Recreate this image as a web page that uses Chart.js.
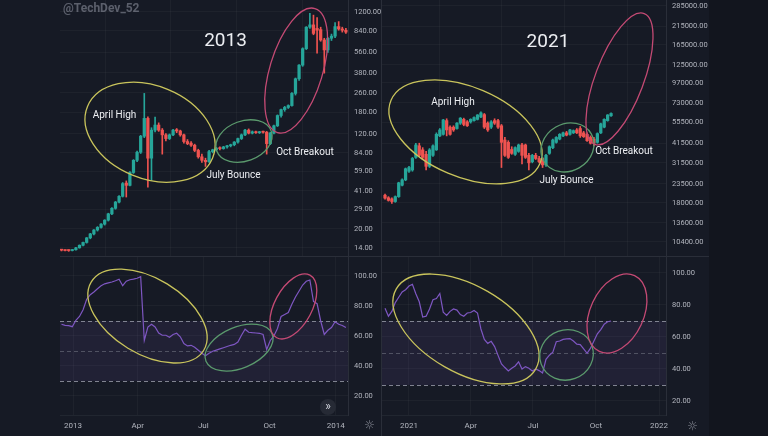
<!DOCTYPE html>
<html lang="en">
<head>
<meta charset="UTF-8">
<title>BTC 2013 vs 2021 - RSI</title>
<script src="https://cdn.jsdelivr.net/npm/chart.js@4.4.2/dist/chart.umd.min.js"></script>
<style>
  body { margin: 0; width: 768px; height: 436px; overflow: hidden; position: relative; background: #12151e; font-family: Roboto, sans-serif; }
  .panel { position: absolute; left: 0; top: 0; width: 709px; height: 436px; background: #161a25; }
  canvas { position: absolute; }
  .sep { position: absolute; background: #2a2e39; }
  .mark { position: absolute; color: rgba(160,164,178,0.5); font: 700 12px Roboto, sans-serif; left: 63px; top: 1px; }
  .btn { position: absolute; left: 320px; top: 399px; width: 16px; height: 16px; border-radius: 50%; background: #262a35; color: #d1d4dc; font: 12px Roboto, sans-serif; line-height: 15px; text-align: center; }
  .gear { position: absolute; color: #8a8e99; font: 12px "DejaVu Sans", sans-serif; }
</style>
</head>
<body>
<div class="panel"></div>
<canvas id="tl" width="322" height="256" style="left:60px;top:0"></canvas>
<canvas id="bl" width="322" height="180" style="left:60px;top:256px"></canvas>
<canvas id="tr" width="327" height="256" style="left:382px;top:0"></canvas>
<canvas id="br" width="327" height="180" style="left:382px;top:256px"></canvas>
<div class="sep" style="left:60px;top:256px;width:649px;height:1px"></div>
<div class="sep" style="left:381px;top:0;width:1px;height:436px"></div>
<div class="mark">@TechDev_52</div>
<div class="btn">»</div>
<div class="gear" style="left:364px;top:418px">☼</div>
<div class="gear" style="left:687px;top:419px">☼</div>

<script>
// candles are every 5 days; day 0 = 1 Jan of the year shown
const step = 5;
const green = '#26a69a', red = '#ef5350';
const gridCol = 'rgba(255,255,255,0.035)';
const tickCol = '#b2b5be';

// --- 2013 ---
const start2013 = -16;
const open2013 = [13.5,13.4,13.4,13.3,13.5,14.0,14.7,15.5,16.9,18.2,
  19.6,20.6,21.9,23.6,26.6,29.5,33.2,37.0,47.5,45.5,
  58,73,85,115,161,76,129,142,129,118,
  110,118,130,127,118,104,101,97,88,78,
  73,71,86,89,92,91,94,96,98,103,
  110,118,129,122,125,123,125,124,100,122,
  140,170,190,198,205,258,340,440,600,900,
  940,880,860,707,586,730,760,910,870,850];
const high2013 = [13.6,13.5,13.5,13.6,14.1,14.8,15.6,17.0,18.4,19.8,
  20.9,22.1,23.8,26.9,29.9,33.6,37.5,48.0,49.5,59,
  74,87,117,258,166,135,165,148,133,121,
  120,131,133,129,120,108,104,99,90,82,
  76,88,90,93,94,95,97,99,104,111,
  120,131,132,127,127,126,127,126,124,142,
  172,192,202,208,262,345,445,610,910,1170,
  1130,1080,900,730,740,790,980,1000,900,880];
const low2013 = [13.2,13.2,13.1,13.2,13.4,13.9,14.5,15.3,16.6,17.9,
  19.2,20.3,21.5,23.2,26.2,29.0,32.6,36.5,36.5,45,
  57,71,83,112,44,50,125,126,82,105,
  108,116,123,115,101,98,95,86,76,70,
  65,70,84,87,89,90,92,94,96,101,
  108,116,120,120,121,121,122,82,98,120,
  138,165,184,194,203,250,330,430,590,880,
  780,550,690,378,560,700,740,850,820,800];
const close2013 = [13.4,13.3,13.3,13.5,14.0,14.7,15.5,16.9,18.2,19.6,
  20.6,21.9,23.6,26.6,29.5,33.2,37.0,47.0,45.5,58,
  73,85,115,161,76,129,142,129,118,110,
  118,129,127,118,104,100,97,88,78,73,
  71,86,89,92,91,94,96,98,103,110,
  118,129,122,125,123,125,124,100,122,140,
  170,190,198,205,258,340,440,600,900,940,
  800,850,707,586,730,760,910,870,850,820];
const rsi2013 = [67.8,67.1,66.9,66.2,70.5,73,77.5,84.5,87.5,89.3,
  91.5,93.5,94.8,95.4,96,96.8,97.8,93.5,96.5,97.5,
  97.9,98.5,99.6,57,66,67.8,66,62,60.5,60.5,
  59.2,61,61.8,59.5,55,53.4,53.8,52.5,50.5,48.5,
  46.8,48.5,49.8,50.6,51.4,52.2,53,53.8,54.4,56,
  60.5,64.5,62.5,62.2,62,61.8,61,51,57,60,
  65,73,74.3,75.6,81.2,86,90,94,96.5,97.3,
  83,81.5,70,61,63.8,65.6,69.5,67.8,67,65.6];
const priceTicks2013 = [1200,840,560,380,260,180,120,84,59,41,29,20,14];

// --- 2021 ---
const start2021 = -35;
const open2021 = [20000,19300,19000,18300,19600,23000,24800,28000,28500,34000,
  40000,37800,35500,30000,35000,37800,46000,47000,57000,52000,
  52000,51000,55000,58000,56000,56000,57000,58000,60000,62000,
  55000,52000,57000,57000,53000,43400,42000,38000,35500,37000,
  40500,40500,35000,32000,35000,33500,33500,30600,36000,39000,
  42000,44000,46000,48000,47000,48000,50000,51000,48000,47000,
  45000,44000,42000,48000,52000,57000,61000];
const high2021 = [20300,19600,19300,19800,24000,25200,29300,30000,34000,41500,
  41500,39000,37000,38500,40500,48000,51000,58000,58500,53000,
  53000,55500,59500,59000,57000,58500,60000,62000,64500,63000,
  56000,57000,58500,58000,54000,45000,43000,39500,39500,41000,
  41500,41000,36000,35500,36000,34500,34000,35500,40000,44000,
  45500,47500,48500,49000,50500,50000,51000,52500,49000,48000,
  46000,45000,48000,55000,58500,62000,63500];
const low2021 = [18900,18400,17800,18100,19400,22800,24500,27500,28000,33500,
  34500,33000,28500,29500,34500,37500,45500,46500,46000,46500,
  49000,50500,54000,53000,52500,55000,56500,57500,59500,51000,
  49000,51000,54000,51000,29500,34500,33500,35500,35000,36500,
  31000,33500,28500,31500,33000,31500,29500,30000,35500,38500,
  41500,43500,45500,46000,46500,47500,47500,45000,45000,42500,
  41000,40000,41500,47500,51500,56500,60500];
const close2021 = [19200,18600,18300,19600,23800,24800,29000,29500,33500,40500,
  35000,34000,30000,37800,40000,47000,50000,57500,50000,47000,
  50000,55000,59000,54000,53000,58000,59500,61700,63500,52000,
  50000,56000,55000,52000,42000,35000,34000,36000,39000,40500,
  35000,34000,31500,35000,33500,32000,30600,35000,39500,43400,
  45000,47000,48000,46500,50000,49500,48000,46000,45500,43000,
  41500,41500,47500,54500,58000,61700,63000];
const rsi2021 = [78,73,76,81.5,84.8,88.1,89.5,91.8,92.9,87,
  82,72.5,73,77.5,83.3,84,87.2,75.5,73.5,76,
  77.5,76.8,74,73,75,75.3,76.6,75,65,58.5,
  56,57.3,54,48.5,43.2,40.9,38.8,40.5,41.9,44.5,
  40,41.5,40.5,38.8,40,39,37.5,46,48.6,50.5,
  57,57.5,58.5,58.8,59,57.5,55.5,55.2,52.5,49.8,
  53,57.5,62,64.6,68,69.5,70];
const priceTicks2021 = [285000,215000,165000,125000,97000,73000,55500,41500,31500,23500,18000,13600,10400];

const rsiTicks = [100, 80, 60, 40, 20];
const rsiLevels = [70, 50, 30];
const timeTicks = [0, 90, 181, 273, 365];
const timeLabels2013 = ['2013', 'Apr', 'Jul', 'Oct', '2014'];
const timeLabels2021 = ['2021', 'Apr', 'Jul', 'Oct', '2022'];

// annotation colours
const cYellow = '#c9c45c', cGreen = '#5b9a6d', cPink = '#c44a74';

// ellipses / labels anchored in data units (day, value)
const notes2013 = {
  ellipses: [
    { day: 107, val: 124, rx: 67.6, ry: 46.4, rot: 22.3, color: cYellow },
    { day: 237.5, val: 105, rx: 29, ry: 20, rot: -20, color: cGreen },
    { day: 310, val: 397, rx: 26.4, ry: 64.8, rot: 16.8, color: cPink }
  ],
  texts: [
    { text: '2013', day: 211.8, val: 694, size: 19 },
    { text: 'April High', day: 57.6, val: 168.6, size: 10 },
    { text: 'July Bounce', day: 222.9, val: 55.3, size: 10 },
    { text: 'Oct Breakout', day: 322.2, val: 83.8, size: 10 }
  ]
};
const rsiNotes2013 = {
  ellipses: [
    { day: 103.5, val: 73.3, rx: 65.8, ry: 37.7, rot: 31.3, color: cYellow },
    { day: 230.6, val: 52.3, rx: 35.8, ry: 20.6, rot: -22.6, color: cGreen },
    { day: 306, val: 79.7, rx: 18.8, ry: 35.4, rot: 28, color: cPink }
  ],
  texts: []
};
const notes2021 = {
  ellipses: [
    { day: 82.5, val: 48600, rx: 80.9, ry: 44.8, rot: 23, color: cYellow },
    { day: 231.4, val: 39100, rx: 27.4, ry: 23.5, rot: -29.7, color: cGreen },
    { day: 307.3, val: 102300, rx: 24.2, ry: 69.9, rot: 20.7, color: cPink }
  ],
  texts: [
    { text: '2021', day: 202.9, val: 171900, size: 19 },
    { text: 'April High', day: 64.2, val: 73000, size: 10 },
    { text: 'July Bounce', day: 229.9, val: 24420, size: 10 },
    { text: 'Oct Breakout', day: 313.9, val: 36700, size: 10 }
  ]
};
const rsiNotes2021 = {
  ellipses: [
    { day: 83.2, val: 65, rx: 80.4, ry: 43.4, rot: 29.9, color: cYellow },
    { day: 230, val: 48.8, rx: 27, ry: 25, rot: -20, color: cGreen },
    { day: 303.6, val: 74.7, rx: 26.7, ry: 41.8, rot: 25, color: cPink }
  ],
  texts: []
};

function notesPlugin(notes) {
  return {
    id: 'notes',
    afterDatasetsDraw(chart) {
      const { ctx, scales: { x, y } } = chart;
      ctx.save();
      ctx.lineWidth = 1.3;
      notes.ellipses.forEach(e => {
        ctx.beginPath();
        ctx.ellipse(x.getPixelForValue(e.day), y.getPixelForValue(e.val), e.rx, e.ry, e.rot * Math.PI / 180, 0, Math.PI * 2);
        ctx.strokeStyle = e.color;
        ctx.stroke();
      });
      ctx.fillStyle = '#eceef2';
      ctx.textAlign = 'center';
      ctx.textBaseline = 'middle';
      notes.texts.forEach(t => {
        ctx.font = t.size + 'px Roboto, sans-serif';
        ctx.fillText(t.text, x.getPixelForValue(t.day), y.getPixelForValue(t.val));
      });
      ctx.restore();
    }
  };
}

const rsiBand = {
  id: 'rsiBand',
  beforeDatasetsDraw(chart) {
    const { ctx, chartArea: a, scales: { y } } = chart;
    const top = y.getPixelForValue(rsiLevels[0]);
    const bot = y.getPixelForValue(rsiLevels[2]);
    ctx.save();
    ctx.fillStyle = 'rgba(126,87,194,0.11)';
    ctx.fillRect(a.left, top, a.right - a.left, bot - top);
    ctx.setLineDash([4, 3]);
    ctx.lineWidth = 1;
    rsiLevels.forEach((lv, i) => {
      const py = Math.round(y.getPixelForValue(lv)) + 0.5;
      ctx.strokeStyle = i === 1 ? 'rgba(120,123,134,0.55)' : 'rgba(140,143,156,0.9)';
      ctx.beginPath();
      ctx.moveTo(a.left, py);
      ctx.lineTo(a.right, py);
      ctx.stroke();
    });
    ctx.restore();
  }
};

function baseOptions() {
  return {
    responsive: false,
    animation: false,
    events: [],
    layout: { padding: 0 },
    plugins: { legend: { display: false }, tooltip: { enabled: false } }
  };
}

function yAxis(type, min, max, ticks, width) {
  return {
    type: type, position: 'right', min: min, max: max, bounds: 'data',
    afterBuildTicks: s => { s.ticks = ticks.map(v => ({ value: v })); },
    afterFit: s => { s.width = width; s.paddingTop = 0; s.paddingBottom = 0; },
    ticks: { color: tickCol, font: { family: 'Roboto', size: 7.5 }, padding: 6, callback: v => Number(v).toFixed(2) },
    grid: { color: gridCol, drawTicks: false },
    border: { color: '#2a2e39' }
  };
}

function candleChart(id, o, h, l, c, t0, xMin, xMax, yMin, yMax, ticks, axisW, notes) {
  const xs = o.map((_, i) => t0 + i * step);
  const col = o.map((v, i) => c[i] >= v ? green : red);
  return new Chart(document.getElementById(id), {
    type: 'bar',
    data: {
      datasets: [
        { data: xs.map((x, i) => ({ x: x, y: [o[i], c[i]] })), backgroundColor: col, borderWidth: 0, barThickness: 2.6, minBarLength: 1, grouped: false },
        { data: xs.map((x, i) => ({ x: x, y: [l[i], h[i]] })), backgroundColor: col, borderWidth: 0, barThickness: 1, grouped: false }
      ]
    },
    options: Object.assign(baseOptions(), {
      scales: {
        x: {
          type: 'linear', min: xMin, max: xMax, bounds: 'data', offset: false,
          afterBuildTicks: s => { s.ticks = timeTicks.map(v => ({ value: v })); },
          ticks: { display: false },
          grid: { color: gridCol, drawTicks: false },
          border: { display: false }
        },
        y: yAxis('logarithmic', yMin, yMax, ticks, axisW)
      }
    }),
    plugins: [notesPlugin(notes)]
  });
}

function rsiChart(id, values, t0, xMin, xMax, yMin, yMax, labels, axisW, notes) {
  return new Chart(document.getElementById(id), {
    type: 'line',
    data: {
      datasets: [{
        data: values.map((v, i) => ({ x: t0 + i * step, y: v })),
        borderColor: '#7e57c2', borderWidth: 1.2, pointRadius: 0, tension: 0
      }]
    },
    options: Object.assign(baseOptions(), {
      scales: {
        x: {
          type: 'linear', min: xMin, max: xMax, bounds: 'data',
          afterBuildTicks: s => { s.ticks = timeTicks.map(v => ({ value: v })); },
          afterFit: s => { s.height = 21; s.paddingLeft = 0; s.paddingRight = 0; },
          ticks: { color: tickCol, font: { family: 'Roboto', size: 8 }, padding: 6, maxRotation: 0, autoSkip: false, callback: (v, i) => labels[i] },
          grid: { color: gridCol, drawTicks: false },
          border: { color: 'rgba(42,46,57,0.6)' }
        },
        y: yAxis('linear', yMin, yMax, rsiTicks, axisW)
      }
    }),
    plugins: [rsiBand, notesPlugin(notes)]
  });
}

candleChart('tl', open2013, high2013, low2013, close2013, start2013, -18.06, 381.94, 12.0, 1503, priceTicks2013, 34, notes2013);
rsiChart('bl', rsi2013, start2013, -18.06, 381.94, 7.33, 113.33, timeLabels2013, 34, rsiNotes2013);
candleChart('tr', open2021, high2021, low2021, close2021, start2021, -39.4, 375.2, 8518, 309900, priceTicks2021, 43, notes2021);
rsiChart('br', rsi2021, start2021, -39.4, 375.2, 11.25, 110.6, timeLabels2021, 43, rsiNotes2021);
</script>
</body>
</html>
